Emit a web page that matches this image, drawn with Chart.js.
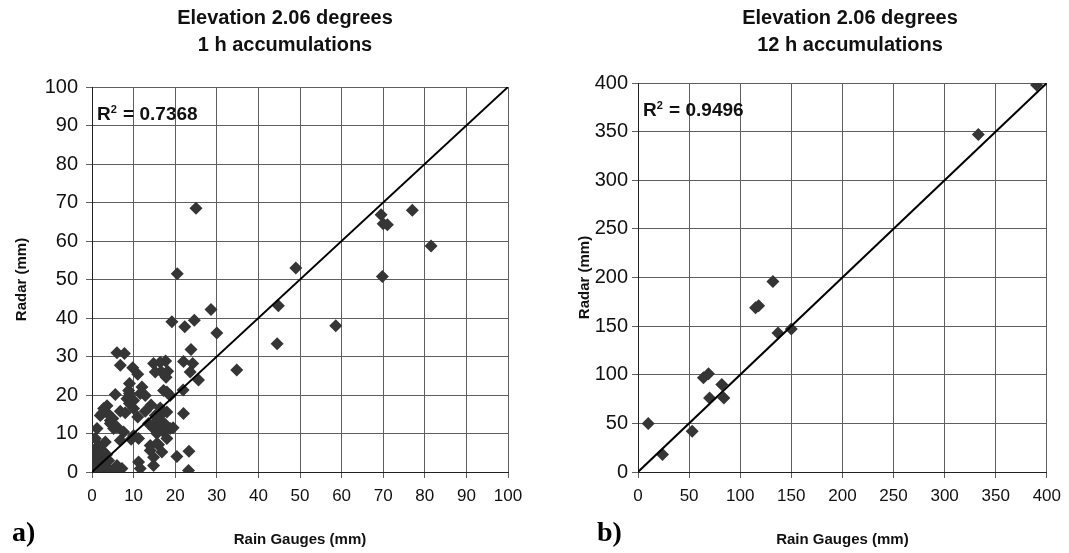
<!DOCTYPE html>
<html>
<head>
<meta charset="utf-8">
<script src="https://cdn.jsdelivr.net/npm/chart.js@4.4.1/dist/chart.umd.min.js"></script>
<style>
    body { margin: 0; background: #fff; }
    #wrap { position: relative; width: 1069px; height: 553px; }
    .panel { position: absolute; top: 0; height: 553px; }
    .tag { position: absolute; top: 516px; font: bold 28px "Liberation Serif", "Times New Roman", serif; color: #000; }
</style>
</head>
<body>
<div id="wrap">
    <div class="panel" style="left:0;width:534px"><canvas id="chartA"></canvas></div>
    <div class="panel" style="left:534px;width:535px"><canvas id="chartB"></canvas></div>
    <div class="tag" style="left:12px">a)</div>
    <div class="tag" style="left:597px">b)</div>
</div>
<script>
// 1 h accumulations (rain gauge vs radar, mm)
const gauge1h = [25, 69.5, 70, 71, 77, 81.5, 49, 69.8, 20.5, 44.8,
    28.6, 58.6, 19.2, 22.3, 24.6, 30, 44.5, 34.8, 25.6, 23.8,
    22, 24.2, 23.6, 17.7, 16.4, 14.8, 18.2, 16.6, 15.2, 17.8,
    21.9, 18, 17.2, 18.8, 22, 16.4, 18, 16.8, 15.2, 15.8,
    17.4, 13.6, 14.8, 16.4, 17.2, 15.6, 18.8, 19.5, 18, 23.3,
    20.4, 23.2, 14, 16, 14, 16.8, 14.8, 14.8, 11.2, 11.6,
    6, 7.8, 6.8, 9.8, 11, 9, 8.8, 12, 11.6, 5.6,
    9, 12.8, 8.4, 10, 3.6, 2.8, 2.4, 2, 3.6, 4.4,
    5, 6.8, 8, 9, 10, 11, 12.8, 14.2, 15.6, 6,
    4.4, 5.2, 7.6, 10, 6.8, 9.4, 11.2, 0.8, 1.6, 3.2,
    0.2, 0.5, 0.2, 0.5, 0.8, 2, 2.8, 1.2, 3.2, 4.4,
    6, 5.6, 7.2, 6, 15.6, 1.2, 1, 2, 3, 1.5,
    2.5, 4, 3.5];
const radar1h = [68.5, 66.8, 64.5, 64.2, 68, 58.7, 53, 50.8, 51.5, 43.2,
    42.2, 38, 39, 37.7, 39.4, 36.1, 33.3, 26.5, 23.9, 31.8,
    28.7, 28.2, 26, 28.8, 28.5, 28.2, 26.2, 26.1, 26, 24.6,
    21.3, 20.8, 21.2, 19.9, 15.2, 16.6, 15.6, 15.2, 14.7, 13.4,
    12.6, 12.6, 11.3, 12.1, 10.4, 10, 11.3, 11.5, 8.7, 5.4,
    4, 0.4, 6.9, 7.1, 5.6, 5.2, 3.8, 1.7, 2.6, 0.9,
    31, 30.8, 27.7, 27.1, 25.4, 23, 21.2, 22.1, 20.4, 20.1,
    20.4, 19.9, 19, 18.6, 17.2, 16.5, 15.2, 14.7, 15.4, 13.4,
    13.9, 15.8, 15.4, 17.8, 16.5, 14.3, 15.8, 17.4, 13.9, 11.7,
    12.6, 11.3, 10.4, 9.5, 8.2, 8.5, 8.7, 8.7, 6.9, 7.8,
    5.6, 3.9, 2.2, 0.4, 4.8, 3.5, 2.6, 1.7, 0.9, 0.4,
    1.7, 0, 0.9, 0.4, 7.4, 11.3, 1, 1, 2, 5,
    5.5, 3, 4.5];

// 12 h accumulations
const gauge12h = [10, 24, 53, 64, 69, 70, 82, 84, 115, 118, 132, 137, 150, 333, 390];
const radar12h = [50, 18, 42, 97, 101, 76, 90, 76, 169, 171, 196, 143, 147, 347, 398];

// 1:1 reference line ends
const oneToOneA = [0, 100];
const oneToOneB = [0, 400];

const titleA = ['Elevation 2.06 degrees', '1 h accumulations'];
const titleB = ['Elevation 2.06 degrees', '12 h accumulations'];
const r2A = '0.7368';
const r2B = '0.9496';

const SANS = '"Liberation Sans", Arial, sans-serif';
const MARK = '#353535';
const GRID = '#5f5f5f';

Chart.defaults.font.family = SANS;
Chart.defaults.color = '#000';

// titles + R2 text drawn on the canvas
const panelText = {
    id: 'panelText',
    afterDraw(chart, args, opts) {
        const ctx = chart.ctx;
        const area = chart.chartArea;
        ctx.save();
        ctx.fillStyle = '#111';
        ctx.textAlign = 'center';
        ctx.textBaseline = 'middle';
        ctx.font = 'bold 20px ' + SANS;
        opts.lines.forEach((line, i) => {
            ctx.fillText(line, opts.titleX, 18 + i * 27);
        });
        // R2 with a small raised 2
        ctx.textAlign = 'left';
        ctx.textBaseline = 'alphabetic';
        let x = area.left + 5;
        const y = area.top + 33;
        ctx.font = 'bold 19px ' + SANS;
        ctx.fillText('R', x, y);
        x += ctx.measureText('R').width;
        ctx.font = 'bold 11px ' + SANS;
        ctx.fillText('2', x, y - 7);
        x += ctx.measureText('2').width + 1;
        ctx.font = 'bold 19px ' + SANS;
        ctx.fillText(' = ' + opts.r2, x, y);
        ctx.restore();
    }
};

function pairs(xs, ys) {
    return xs.map((x, i) => ({ x: x, y: ys[i] }));
}

function makeChart(id, cfg) {
    const ctx = document.getElementById(id).getContext('2d');
    return new Chart(ctx, {
        type: 'scatter',
        data: {
            datasets: [{
                type: 'line',
                data: pairs(cfg.line, cfg.line),
                borderColor: '#000',
                borderWidth: 2,
                pointRadius: 0,
                order: 0
            },
            {
                data: pairs(cfg.xs, cfg.ys),
                pointStyle: 'rectRot',
                pointRadius: 6.5,
                pointBorderWidth: 0,
                backgroundColor: MARK,
                borderColor: MARK,
                order: 1
            }
            ]
        },
        options: {
            responsive: true,
            maintainAspectRatio: false,
            animation: false,
            events: [],
            layout: {
                padding: { top: cfg.top, right: cfg.right, bottom: 0, left: 0 }
            },
            plugins: {
                legend: { display: false },
                tooltip: { enabled: false },
                panelText: { lines: cfg.title, titleX: cfg.titleX, r2: cfg.r2 }
            },
            scales: {
                x: {
                    type: 'linear',
                    min: 0,
                    max: cfg.max,
                    afterFit: (scale) => { scale.height = 81; },
                    ticks: {
                        stepSize: cfg.step,
                        autoSkip: false,
                        maxRotation: 0,
                        padding: 8,
                        color: '#111',
                        font: { size: 17 }
                    },
                    grid: { color: GRID, tickLength: 6 },
                    border: { color: '#222' },
                    title: {
                        display: true,
                        text: 'Rain Gauges (mm)',
                        color: '#111',
                        padding: { top: 0, bottom: 4 },
                        font: { size: 15, weight: 'bold', lineHeight: 1.2 }
                    }
                },
                y: {
                    min: 0,
                    max: cfg.max,
                    afterFit: (scale) => { scale.width = cfg.yWidth; },
                    ticks: {
                        stepSize: cfg.step,
                        padding: cfg.yTickPad,
                        color: '#111',
                        font: { size: 20 }
                    },
                    grid: { color: GRID, tickLength: 6 },
                    border: { color: '#222' },
                    title: {
                        display: true,
                        text: 'Radar (mm)',
                        color: '#111',
                        padding: { top: cfg.yTitlePad, bottom: 0 },
                        font: { size: 15, weight: 'bold', lineHeight: 1.2 }
                    }
                }
            }
        },
        plugins: [panelText]
    });
}

makeChart('chartA', {
    xs: gauge1h, ys: radar1h, line: oneToOneA,
    max: 100, step: 10,
    title: titleA, titleX: 285, r2: r2A,
    top: 87, right: 26, yWidth: 92, yTitlePad: 13, yTickPad: 8
});

makeChart('chartB', {
    xs: gauge12h, ys: radar12h, line: oneToOneB,
    max: 400, step: 50,
    title: titleB, titleX: 316, r2: r2B,
    top: 83, right: 17, yWidth: 104, yTitlePad: 42, yTickPad: 4
});
</script>
</body>
</html>
